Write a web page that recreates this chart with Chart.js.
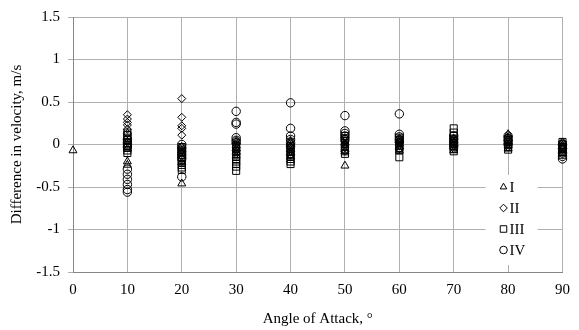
<!DOCTYPE html>
<html><head><meta charset="utf-8">
<script src="https://cdn.jsdelivr.net/npm/chart.js@4/dist/chart.umd.min.js"></script>
<style>html,body{margin:0;padding:0;background:#fff}#wrap{width:579px;height:330px;position:relative}</style>
</head><body><div id="wrap"><canvas id="c" width="579" height="330"></canvas></div>
<script>
// Angles of attack (x categories)
const angles = [0, 10, 20, 30, 40, 50, 60, 70, 80, 90];
const seriesLabels = ['I', 'II', 'III', 'IV'];
const yTicks = [-1.5, -1, -0.5, 0, 0.5, 1, 1.5];
// Values per angle for each series (difference in velocity, m/s)
const seriesI = [
  [-0.07],
  [-0.20, -0.24, -0.05, 0.00, 0.03],
  [-0.46, -0.03, -0.07, -0.11, -0.16, -0.21],
  [0.03, -0.01, -0.05, -0.09, -0.13],
  [0.03, -0.02, -0.06, -0.10, -0.14],
  [-0.25, 0.06, 0.01, -0.04, -0.08],
  [0.05, 0.01, -0.03, -0.07],
  [0.06, 0.02, -0.03, -0.07],
  [0.12, 0.07, 0.03, -0.01, -0.05],
  [0.02, -0.02, -0.06, -0.10]
];
const seriesII = [
  [],
  [0.35, 0.30, 0.26, 0.23, 0.18, 0.13],
  [0.54, 0.32, 0.22, 0.19, 0.11],
  [0.05, 0.01, -0.03, -0.07, -0.11],
  [0.05, 0.01, -0.03, -0.08, -0.12],
  [0.08, 0.04, 0.00, -0.04, -0.08],
  [0.07, 0.03, -0.01, -0.05],
  [0.07, 0.03, -0.01, -0.05],
  [0.09, 0.05, 0.01, -0.03],
  [0.03, -0.01, -0.05, -0.09]
];
const seriesIII = [
  [],
  [0.14, 0.11, 0.08, 0.05, 0.02, -0.01, -0.04, -0.07, -0.10],
  [-0.03, -0.06, -0.09, -0.12, -0.15, -0.18, -0.21, -0.24, -0.27, -0.30],
  [-0.02, -0.05, -0.08, -0.11, -0.14, -0.17, -0.20, -0.23, -0.26, -0.31],
  [-0.02, -0.05, -0.08, -0.11, -0.14, -0.17, -0.20, -0.23],
  [0.10, 0.07, 0.04, 0.01, -0.02, -0.05, -0.08, -0.11],
  [0.08, 0.05, 0.02, -0.01, -0.04, -0.07, -0.15],
  [0.19, 0.14, 0.10, 0.07, 0.04, 0.01, -0.02, -0.05, -0.08],
  [0.06, 0.03, 0.00, -0.03, -0.06],
  [0.03, 0.00, -0.03, -0.06, -0.09, -0.12]
];
const seriesIV = [
  [],
  [-0.29, -0.35, -0.41, -0.47, -0.53, -0.56, 0.02, 0.06, -0.03],
  [-0.38, 0.00, -0.04, -0.08, -0.12, -0.16],
  [0.39, 0.26, 0.24, 0.08, 0.05, 0.02],
  [0.49, 0.19, 0.10, 0.06, 0.02, -0.02],
  [0.34, 0.16, 0.13, 0.10, 0.06],
  [0.36, 0.12, 0.09, 0.06, 0.03],
  [0.10, 0.06, 0.02, -0.02],
  [0.10, 0.07, 0.04, 0.00],
  [0.00, -0.05, -0.10, -0.14, -0.17]
];

function toPoints(series) {
  const pts = [];
  series.forEach((vals, i) => vals.forEach(v => pts.push({x: angles[i], y: v})));
  return pts;
}

const FONT = "'Liberation Serif', 'Times New Roman', serif";
const styles = [
  {pointStyle: 'triangle', radius: 4.6},
  {pointStyle: 'rectRot', radius: 4},
  {pointStyle: 'rect', radius: 5},
  {pointStyle: 'circle', radius: 4.2}
];
const allSeries = [seriesI, seriesII, seriesIII, seriesIV];

function drawShape(ctx, style, r, x, y) {
  ctx.beginPath();
  if (style === 'triangle') {
    ctx.moveTo(x, y - r);
    ctx.lineTo(x + r * 0.866, y + r * 0.5);
    ctx.lineTo(x - r * 0.866, y + r * 0.5);
    ctx.closePath();
  } else if (style === 'rectRot') {
    ctx.moveTo(x, y - r); ctx.lineTo(x + r, y); ctx.lineTo(x, y + r); ctx.lineTo(x - r, y); ctx.closePath();
  } else if (style === 'rect') {
    const s = r * Math.SQRT1_2;
    ctx.rect(x - s, y - s, 2 * s, 2 * s);
  } else {
    ctx.arc(x, y, r, 0, Math.PI * 2);
  }
  ctx.stroke();
}

const insideLegend = {
  id: 'insideLegend',
  beforeDatasetsDraw(chart) {
    const ctx = chart.ctx;
    const area = chart.chartArea;
    const bx = area.right - 77, by = area.bottom - 97, bw = 52, bh = 90;
    ctx.save();
    ctx.fillStyle = '#ffffff';
    ctx.fillRect(bx, by, bw, bh);
    ctx.strokeStyle = '#000';
    ctx.lineWidth = 1;
    ctx.fillStyle = '#000';
    ctx.font = '15px ' + FONT;
    ctx.textBaseline = 'middle';
    chart.data.datasets.forEach((ds, i) => {
      const y = by + 12 + i * 21;
      drawShape(ctx, styles[i].pointStyle, styles[i].pointStyle === 'rect' ? 4.6 : 3.8, bx + 18, y);
      ctx.fillText(ds.label, bx + 24, y + 1);
    });
    ctx.restore();
  }
};

const datasets = allSeries.map((s, i) => ({
  label: seriesLabels[i],
  data: toPoints(s),
  pointStyle: styles[i].pointStyle,
  pointRadius: styles[i].radius,
  pointHoverRadius: styles[i].radius,
  borderColor: '#000',
  backgroundColor: 'rgba(0,0,0,0)',
  pointBorderWidth: 1,
  showLine: false,
  clip: false
}));

new Chart(document.getElementById('c'), {
  type: 'scatter',
  data: {datasets},
  options: {
    responsive: false,
    animation: false,
    devicePixelRatio: 1,
    layout: {padding: {top: 11, right: 2, left: 0, bottom: 0}},
    plugins: {legend: {display: false}, tooltip: {enabled: false}},
    scales: {
      x: {
        type: 'linear', min: 0, max: 90,
        afterFit(scale) { scale.height = 58; },
        ticks: {stepSize: 10, color: '#000', font: {family: FONT, size: 15}, padding: 9, maxRotation: 0},
        grid: {color: '#b0b0b0', tickLength: 0, drawTicks: false},
        border: {color: '#868686'},
        title: {display: true, text: 'Angle of Attack, °', color: '#000', font: {family: FONT, size: 15}, padding: {top: 4, bottom: 2}}
      },
      y: {
        type: 'linear', min: -1.5, max: 1.5,
        afterFit(scale) { scale.width = 73; },
        afterBuildTicks(scale) { scale.ticks = yTicks.map(v => ({value: v})); },
        ticks: {color: '#000', font: {family: FONT, size: 15}, padding: 8, callback: v => String(Number(v))},
        grid: {color: '#b0b0b0', tickLength: 5},
        border: {color: '#868686'},
        title: {display: true, text: 'Difference in velocity, m/s', color: '#000', font: {family: FONT, size: 15}, padding: {top: 8, bottom: 2}}
      }
    }
  },
  plugins: [insideLegend]
});
</script>
</body></html>
